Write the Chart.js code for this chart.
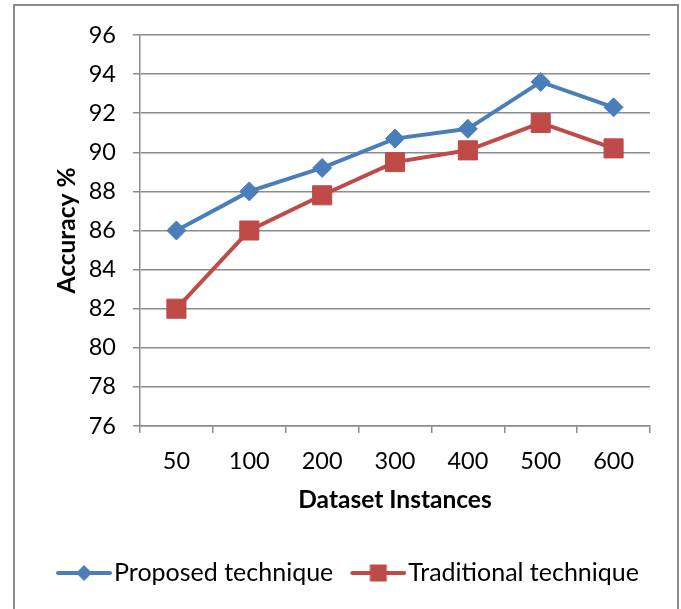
<!DOCTYPE html>
<html>
<head>
<meta charset="utf-8">
<script src="https://cdn.jsdelivr.net/npm/chart.js@4.4.1/dist/chart.umd.min.js"></script>
<style>
  html, body { margin: 0; padding: 0; background: #ffffff; }
  #wrap { width: 681px; height: 609px; position: relative; }
</style>
</head>
<body>
<div id="wrap"><canvas id="c" width="681" height="609"></canvas></div>
<script>
// Dataset sizes on the x axis
const categories = ['50', '100', '200', '300', '400', '500', '600'];
// Accuracy (%) per dataset size
const proposed = [86.0, 88.0, 89.2, 90.7, 91.2, 93.6, 92.3];
const traditional = [82.0, 86.0, 87.8, 89.5, 90.1, 91.5, 90.2];
const seriesNames = ['Proposed technique', 'Traditional technique'];
const yTicks = [76, 78, 80, 82, 84, 86, 88, 90, 92, 94, 96];

const BLUE = '#4A7EBB';
const RED = '#BE4B48';
const GRID = '#8C8C8C';
const FONT = 'Lato, "Open Sans", sans-serif';

// Legend swatch: a short line with the series marker on it.
// The image is centred on the legend box; the line sits in its right part
// so that it ends just before the label text.
function swatch(color, kind) {
  const c = document.createElement('canvas');
  c.width = 81; c.height = 22;
  const g = c.getContext('2d');
  g.strokeStyle = color; g.lineWidth = 4; g.lineCap = 'round';
  g.beginPath(); g.moveTo(27, 11); g.lineTo(79, 11); g.stroke();
  g.fillStyle = color;
  g.beginPath();
  const cx = 53;
  if (kind === 'diamond') {
    g.moveTo(cx, 3); g.lineTo(cx + 8, 11); g.lineTo(cx, 19); g.lineTo(cx - 8, 11);
  } else {
    g.rect(cx - 8.5, 2.5, 17, 17);
  }
  g.closePath(); g.fill();
  return c;
}

// Outer frame around the chart
const frame = {
  id: 'frame',
  beforeDraw(chart) {
    const ctx = chart.ctx;
    ctx.save();
    ctx.strokeStyle = '#8A8A8A';
    ctx.lineWidth = 2;
    ctx.strokeRect(14, 5, 664, 620);
    ctx.restore();
  }
};

new Chart(document.getElementById('c'), {
  type: 'line',
  data: {
    labels: categories,
    datasets: [
      {
        label: seriesNames[0],
        data: proposed,
        borderColor: BLUE,
        backgroundColor: BLUE,
        borderWidth: 4,
        pointStyle: 'rectRot',
        pointRadius: 9.5,
        pointBorderWidth: 1,
        pointBackgroundColor: BLUE,
        pointBorderColor: BLUE,
        tension: 0
      },
      {
        label: seriesNames[1],
        data: traditional,
        borderColor: RED,
        backgroundColor: RED,
        borderWidth: 4,
        pointStyle: 'rect',
        pointRadius: 13.5,
        pointBorderWidth: 1,
        pointBackgroundColor: RED,
        pointBorderColor: RED,
        tension: 0
      }
    ]
  },
  options: {
    responsive: false,
    animation: false,
    events: [],
    layout: { padding: { top: 35, right: 31, left: 30.5, bottom: 13.5 } },
    plugins: {
      tooltip: { enabled: false },
      legend: {
        position: 'bottom',
        labels: {
          usePointStyle: true,
          pointStyleWidth: 60,
          padding: 2.5,
          color: '#000',
          font: { family: FONT, size: 25 },
          generateLabels(chart) {
            return chart.data.datasets.map((ds, i) => ({
              text: ds.label,
              pointStyle: swatch(ds.borderColor, i === 0 ? 'diamond' : 'square'),
              fillStyle: ds.borderColor,
              strokeStyle: ds.borderColor,
              lineWidth: 0,
              datasetIndex: i,
              fontColor: '#000'
            }));
          }
        }
      }
    },
    scales: {
      x: {
        type: 'category',
        offset: true,
        afterFit(scale) { scale.height = 132; },
        grid: {
          offset: true,
          drawOnChartArea: false,
          drawTicks: true,
          tickLength: 7,
          color: GRID,
          lineWidth: 1.5
        },
        border: { display: true, color: GRID, width: 1.5 },
        ticks: {
          padding: 14,
          color: '#000',
          font: { family: FONT, size: 23.5 },
          maxRotation: 0
        },
        title: {
          display: true,
          text: 'Dataset Instances',
          color: '#000',
          font: { family: FONT, size: 24.5, weight: 'bold' },
          padding: { top: 0, bottom: 43 }
        }
      },
      y: {
        min: 76,
        max: 96,
        afterFit(scale) { scale.width = 109.5; },
        afterBuildTicks(scale) { scale.ticks = yTicks.map(v => ({ value: v })); },
        grid: {
          drawTicks: true,
          tickLength: 7,
          color: GRID,
          lineWidth: 1.5
        },
        border: { display: true, color: GRID, width: 1.5 },
        ticks: {
          padding: 17,
          color: '#000',
          font: { family: FONT, size: 23.5 }
        },
        title: {
          display: true,
          text: 'Accuracy %',
          color: '#000',
          font: { family: FONT, size: 24.5, weight: 'bold' },
          padding: { top: 22, bottom: 0 }
        }
      }
    }
  },
  plugins: [frame]
});
</script>
</body>
</html>
